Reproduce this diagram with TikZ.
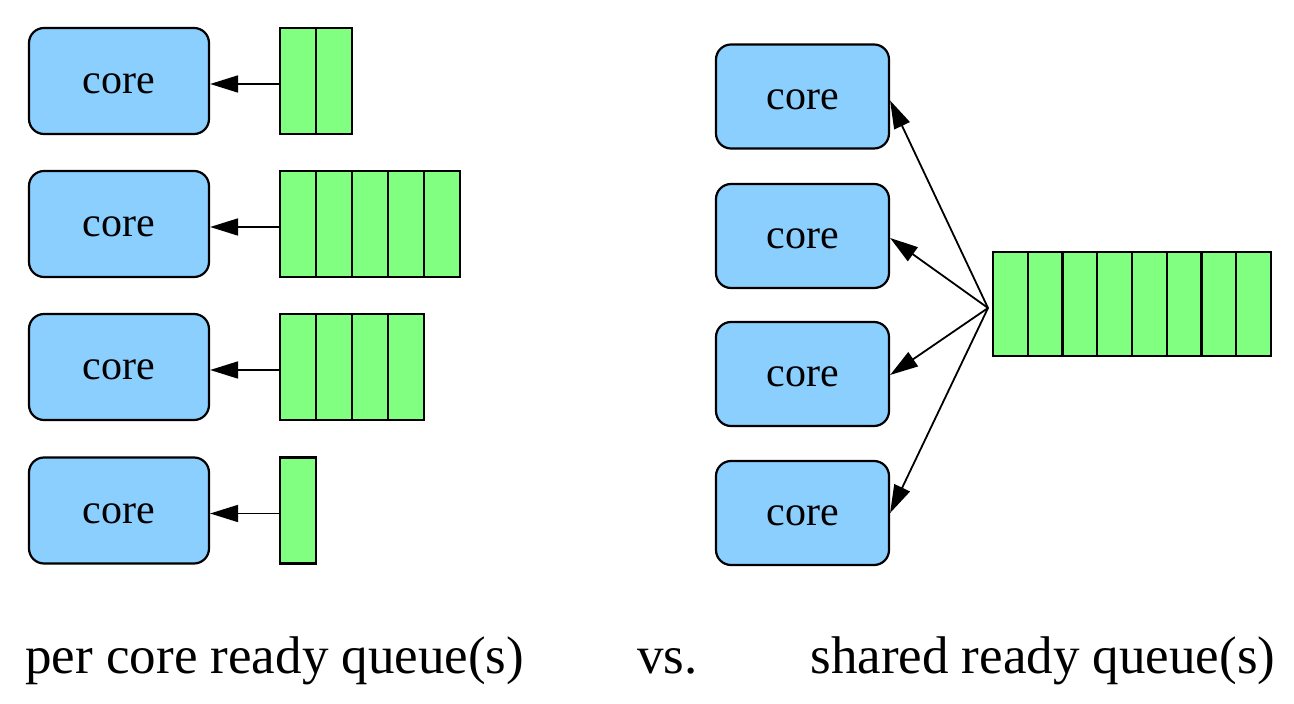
\documentclass[tikz,border=0pt]{standalone}
\usepackage{fontspec}
\setmainfont{Liberation Serif}
\usetikzlibrary{arrows.meta}
\definecolor{coreblue}{RGB}{139,207,255}
\definecolor{cellgreen}{RGB}{128,255,128}
\tikzset{
  corebox/.style={draw, line width=1.1pt, fill=coreblue, rounded corners=7.5pt,
    minimum width=90pt, minimum height=53pt, inner sep=0pt,
    text height=12.6pt, text depth=0pt,
    font=\fontsize{21}{25}\selectfont},
  qcell/.style={draw, line width=1.1pt, fill=cellgreen, minimum width=18pt,
    minimum height=53pt, inner sep=0pt},
  scell/.style={draw, line width=1.1pt, fill=cellgreen, minimum width=17.375pt,
    minimum height=52pt, inner sep=0pt},
  conn/.style={line width=0.9pt, -{Triangle[length=14pt,width=8.5pt]}},
  caption/.style={anchor=base west, inner sep=0pt, font=\fontsize{26.5}{32}\selectfont}
}
\begin{document}
\begin{tikzpicture}[x=0.5pt,y=-0.5pt]
\useasboundingbox (0,0) rectangle (1294,704);
% left: per-core queues
\node[corebox] (lc1) at (119,81) {core};
\node[corebox] (lc2) at (119,224) {core};
\node[corebox] (lc3) at (119,367) {core};
\node[corebox] (lc4) at (119,510.5) {core};
\foreach \i in {1,2} {\node[qcell] (qa\i) at ({298+36*(\i-1)},81) {};}
\foreach \i in {1,...,5} {\node[qcell] (qb\i) at ({298+36*(\i-1)},224) {};}
\foreach \i in {1,...,4} {\node[qcell] (qc\i) at ({298+36*(\i-1)},367) {};}
\foreach \i in {1} {\node[qcell] (qd\i) at ({298+36*(\i-1)},510.5) {};}
\draw[conn] ([yshift=-1.5pt]qa1.west) -- ([yshift=-1.5pt]lc1.east);
\draw[conn] ([yshift=-1.5pt]qb1.west) -- ([yshift=-1.5pt]lc2.east);
\draw[conn] ([yshift=-1.5pt]qc1.west) -- ([yshift=-1.5pt]lc3.east);
\draw[conn] ([yshift=-1.5pt]qd1.west) -- ([yshift=-1.5pt]lc4.east);
% right: shared queue
\node[corebox, minimum width=86.5pt, minimum height=52pt] (rc1) at (802.5,96.5) {core};
\node[corebox, minimum width=86.5pt, minimum height=52pt] (rc2) at (802.5,236) {core};
\node[corebox, minimum width=86.5pt, minimum height=52pt] (rc3) at (802.5,374) {core};
\node[corebox, minimum width=86.5pt, minimum height=52pt] (rc4) at (802.5,513) {core};
\foreach \i in {1,...,8} {\node[scell] (s\i) at ({993+34.75*(\i-0.5)},304) {};}
\coordinate (hub) at (988,308);
\draw[conn] (hub) -- ([yshift=-2pt]rc1.east);
\draw[conn] (hub) -- ([yshift=-1pt]rc2.east);
\draw[conn] (hub) -- ([yshift=-0.5pt]rc3.east);
\draw[conn] (hub) -- (rc4.east);
% captions
\node[caption] (capl) at (25,673) {per core ready queue(s)};
\node[caption] (capv) at (637,673) {vs.};
\node[caption] (capr) at (810,673) {shared ready queue(s)};
\end{tikzpicture}
\end{document}
